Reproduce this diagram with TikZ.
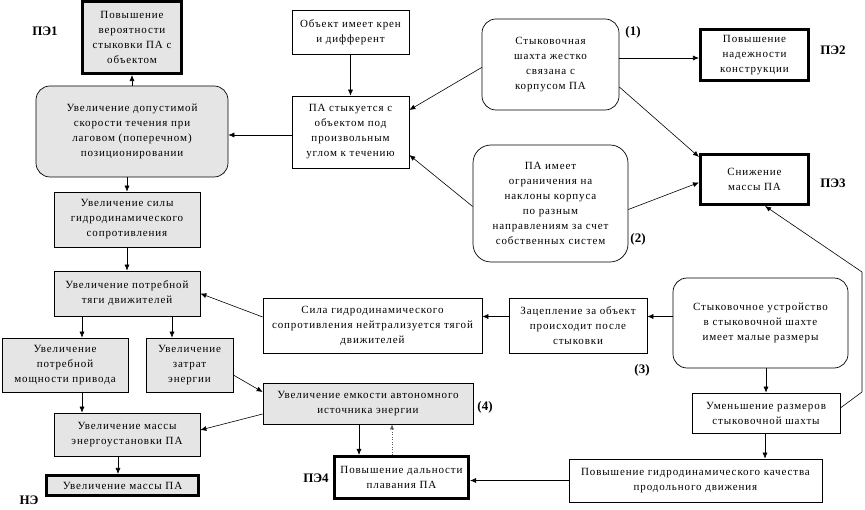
\documentclass[tikz,border=0pt]{standalone}
\usepackage{fontspec}
\setmainfont{Liberation Serif}
\newfontfamily\boxfont[LetterSpace=8]{Liberation Serif}
\usetikzlibrary{arrows.meta,calc}
\begin{document}
\begin{tikzpicture}[x=1pt,y=-1pt,
  box/.style={draw, line width=0.7pt, align=center, inner sep=0pt, font=\boxfont\fontsize{11}{15}\selectfont},
  grey/.style={fill=gray!20},
  heavy/.style={line width=2.6pt},
  rbox/.style={box, rounded corners=14pt},
  lab/.style={font=\bfseries\fontsize{13}{15}\selectfont, inner sep=0pt},
  arr/.style={-{Latex[length=6pt,width=5pt]}, line width=0.6pt},
  dotarr/.style={-{Latex[length=5pt,width=4pt]}, line width=0.5pt, dotted, draw=gray!70!black}]
\useasboundingbox (0,0) rectangle (865,510);
% nodes
\node[box,grey,heavy,minimum width=99.5pt,minimum height=72.5pt] (pe1) at (132,37.5) {Повышение\\вероятности\\стыковки ПА с\\объектом};
\node[rbox,grey,minimum width=192pt,minimum height=91pt] (r1) at (132,131.5) {Увеличение допустимой\\скорости течения при\\лаговом (поперечном)\\позиционировании};
\node[box,minimum width=117pt,minimum height=44pt] (obj) at (350.5,32) {Объект имеет крен\\и дифферент};
\node[box,minimum width=117pt,minimum height=72pt] (pa) at (350.5,132) {ПА стыкуется с\\объектом под\\произвольным\\углом к течению};
\node[rbox,minimum width=137pt,minimum height=91pt] (shaft) at (550.5,64.5) {Стыковочная\\шахта жестко\\связана с\\корпусом ПА};
\node[box,heavy,minimum width=108.5pt,minimum height=51.5pt] (pe2) at (754.5,55) {Повышение\\надежности\\конструкции};
\node[box,heavy,minimum width=108.5pt,minimum height=50.5pt] (pe3) at (754.5,179.5) {Снижение\\массы ПА};
\node[rbox,rounded corners=18pt,minimum width=155pt,minimum height=117pt] (lim) at (550.5,203.5) {ПА имеет\\ограничения на\\наклоны корпуса\\по разным\\направлениям за счет\\собственных систем};
\node[box,grey,minimum width=146pt,minimum height=55pt] (drag) at (127,219.5) {Увеличение силы\\гидродинамического\\сопротивления};
\node[box,grey,minimum width=146pt,minimum height=45pt] (thrust) at (127,293.5) {Увеличение потребной\\тяги движителей};
\node[box,grey,minimum width=126pt,minimum height=54pt] (power) at (65,365) {Увеличение\\потребной\\мощности привода};
\node[box,grey,minimum width=87pt,minimum height=54pt] (energy) at (189.5,365) {Увеличение\\затрат\\энергии};
\node[box,grey,minimum width=146pt,minimum height=43pt] (plant) at (127,434.5) {Увеличение массы\\энергоустановки ПА};
\node[box,grey,heavy,minimum width=152.5pt,minimum height=20.5pt] (ne) at (122.5,485.5) {Увеличение массы ПА};
\node[box,minimum width=219pt,minimum height=55pt] (force) at (372.5,325.5) {Сила гидродинамического\\сопротивления нейтрализуется тягой\\движителей};
\node[box,minimum width=138pt,minimum height=55pt] (hook) at (578,325.5) {Зацепление за объект\\происходит после\\стыковки};
\node[rbox,minimum width=175pt,minimum height=90pt] (dev) at (760.5,323) {Стыковочное устройство\\в стыковочной шахте\\имеет малые размеры};
\node[box,grey,minimum width=210pt,minimum height=41pt] (cap) at (368,403.5) {Увеличение емкости автономного\\источника энергии};
\node[box,minimum width=148pt,minimum height=40pt] (size) at (766,413) {Уменьшение размеров\\стыковочной шахты};
\node[box,heavy,minimum width=134.5pt,minimum height=42.5pt] (pe4) at (401.5,477.5) {Повышение дальности\\плавания ПА};
\node[box,minimum width=253pt,minimum height=43pt] (hydro) at (695.5,480.5) {Повышение гидродинамического качества\\продольного движения};
% labels
\node[lab] (l1) at (45,31) {ПЭ1};
\node[lab] (l2) at (833,50) {ПЭ2};
\node[lab] (l3) at (833,183) {ПЭ3};
\node[lab] (l4) at (316,478) {ПЭ4};
\node[lab] (l5) at (29,500) {НЭ};
\node[lab] (n1) at (633,32) {(1)};
\node[lab] (n2) at (638,239) {(2)};
\node[lab] (n3) at (642,370) {(3)};
\node[lab] (n4) at (485,407) {(4)};
% bend points
\coordinate (b1) at (862,392);
\coordinate (b2) at (862,272);
% connectors
\draw[arr] (r1.north) -- (pe1.south);
\draw[arr] ([yshift=-3]pa.west) -- ([yshift=-3]pa.west -| r1.east);
\draw[arr] (obj.south) -- (pa.north);
\draw[arr] ([yshift=-3]shaft.west) -- ([yshift=22]pa.east);
\draw[arr] ([yshift=-3]pe2.west -| shaft.east) -- ([yshift=-3]pe2.west);
\draw[arr] ([yshift=-22.5]shaft.east) -- ([yshift=-4]pe3.north west);
\draw[arr] ([yshift=-3]lim.west) -- ([yshift=-23]pa.east);
\draw[arr] ([yshift=-6]lim.east) -- ([yshift=-3]pe3.west);
\draw[arr] ([yshift=5]size.east) -- (b1) -- (b2) -- ([xshift=10.5]pe3.south);
\draw[arr] (drag.north |- r1.south) -- (drag.north);
\draw[arr] (drag.south) -- (thrust.north);
\draw[arr] ([xshift=-45]thrust.south) -- ([xshift=-45]thrust.south |- power.north);
\draw[arr] ([xshift=45]thrust.south) -- ([xshift=45]thrust.south |- energy.north);
\draw[arr] ([yshift=8.5]force.west) -- (thrust.east);
\draw[arr] ([yshift=9]hook.west) -- ([yshift=9]force.east);
\draw[arr] ([yshift=9]hook.east -| dev.west) -- ([yshift=9]hook.east);
\draw[arr] (size.north |- dev.south) -- (size.north);
\draw[arr] ([xshift=-1]size.south) -- ([xshift=-1]size.south |- hydro.north);
\draw[arr] (hydro.west) -- (hydro.west -| pe4.east);
\draw[arr] ([xshift=-42.5]pe4.north |- cap.south) -- ([xshift=-42.5]pe4.north);
\draw[dotarr] ([xshift=-9.5]pe4.north) -- ([xshift=-9.5]pe4.north |- cap.south);
\draw[arr] ([yshift=-10]energy.east) -- ([yshift=11.5]cap.west);
\draw[arr] ([yshift=-10.5]cap.west) -- ([yshift=4.5]plant.east);
\draw[arr] ([xshift=17]power.south) -- ([xshift=17]power.south |- plant.north);
\draw[arr] ([xshift=-9]plant.south) -- ([xshift=-9]plant.south |- ne.north);
\end{tikzpicture}
\end{document}
